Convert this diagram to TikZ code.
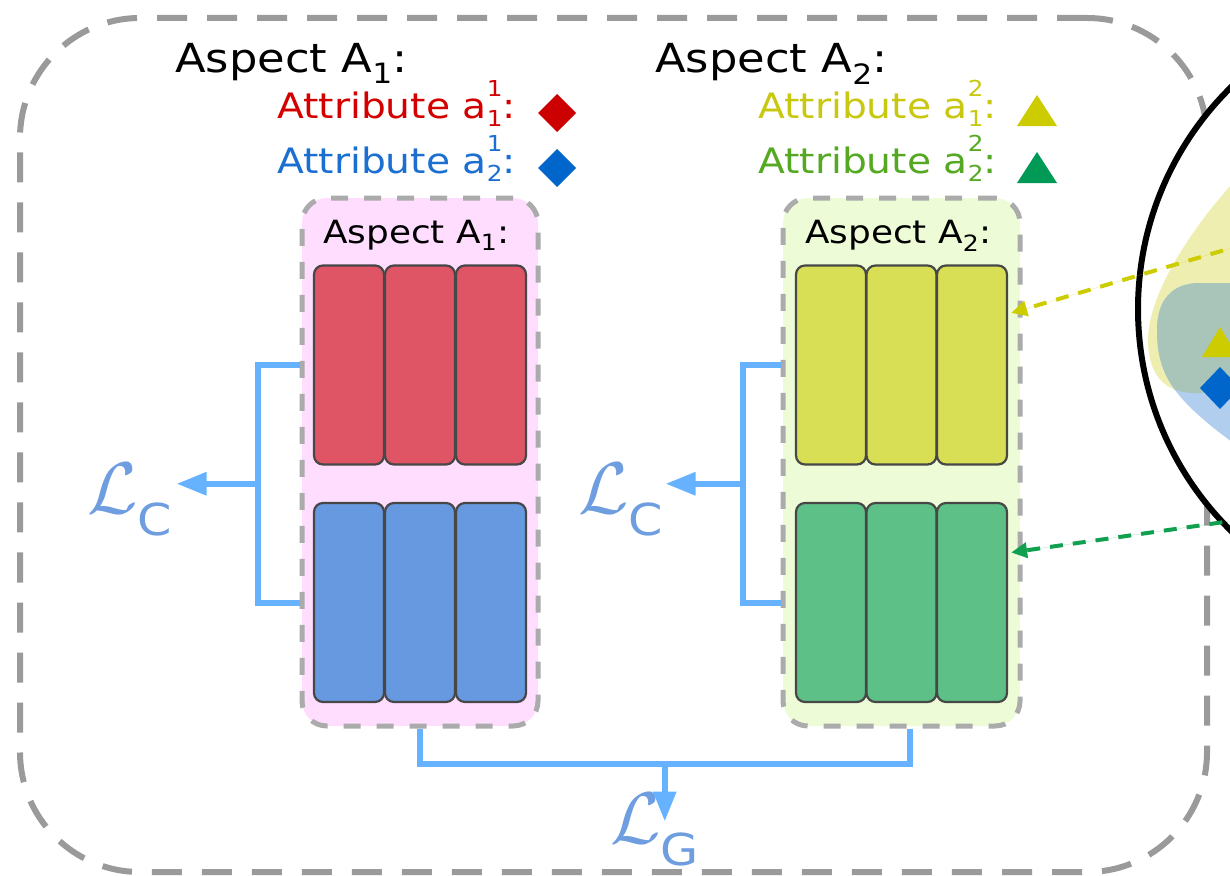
\documentclass[tikz,border=0pt]{standalone}
\usepackage{graphicx}
\usepackage{fontspec}
\setmainfont{DejaVu Sans}[FakeStretch=1.12]
\usetikzlibrary{arrows.meta,calc}
\definecolor{outergray}{HTML}{9A9A9A}
\definecolor{innergray}{HTML}{ABABAB}
\definecolor{pinkbg}{HTML}{FFDDFF}
\definecolor{greenbg}{HTML}{EDFCD6}
\definecolor{redblk}{HTML}{E05565}
\definecolor{blueblk}{HTML}{6699E0}
\definecolor{yellowblk}{HTML}{D9DF55}
\definecolor{greenblk}{HTML}{5DC187}
\definecolor{conncol}{HTML}{66B2FF}
\definecolor{losscol}{HTML}{6E9DE0}
\definecolor{redtxt}{HTML}{D40000}
\definecolor{bluetxt}{HTML}{1A6FD0}
\definecolor{yellowtxt}{HTML}{C8C810}
\definecolor{greentxt}{HTML}{55A822}
\definecolor{redmk}{HTML}{CC0000}
\definecolor{bluemk}{HTML}{0066CC}
\definecolor{yellowmk}{HTML}{CCCC00}
\definecolor{greenmk}{HTML}{009955}
\definecolor{yblob}{HTML}{EEEEB0}
\definecolor{bblob}{HTML}{B2CEEE}
\definecolor{oblob}{HTML}{A9C4B8}
\definecolor{ydash}{HTML}{CCCC00}
\definecolor{gdash}{HTML}{11A050}
\newcommand{\supsub}[2]{\rlap{\raisebox{0.62em}{\fontsize{22}{22}\selectfont #1}}\raisebox{-0.25em}{\fontsize{22}{22}\selectfont #2}}
\newcommand{\lossC}[1]{\resizebox{!}{50pt}{$\mathcal{L}$}\raisebox{-0.5em}{\fontsize{44}{44}\selectfont #1}}
\begin{document}
\begin{tikzpicture}[x=1pt,y=-1pt,
  outerbox/.style={draw=outergray, line width=6pt, dash pattern=on 30pt off 20pt, rounded corners=120pt, inner sep=0pt},
  grpbox/.style={draw=innergray, line width=5pt, dash pattern=on 17pt off 16pt, rounded corners=25pt, inner sep=0pt},
  blk/.style={draw=black!72, line width=2.2pt, rounded corners=9pt, minimum width=70pt, minimum height=199pt, inner sep=0pt},
  conn/.style={draw=conncol, line width=6pt},
  connarrow/.style={conn, -{Triangle[length=30pt,width=22pt]}},
  dasharrow/.style={line width=4pt, dash pattern=on 13pt off 10pt, -{Triangle[length=16pt,width=15pt]}},
  head/.style={anchor=base west, inner sep=0pt, font=\fontsize{40}{42}\selectfont},
  attr/.style={anchor=base west, inner sep=0pt, font=\fontsize{35}{40}\selectfont},
  inhead/.style={anchor=base west, inner sep=0pt, font=\fontsize{32}{36}\selectfont},
  loss/.style={anchor=base west, inner sep=0pt, text=losscol, font=\fontsize{44}{44}\selectfont}]
\useasboundingbox (0,0) rectangle (1230,875);

% outer dashed container
\node[outerbox, minimum width=1187pt, minimum height=854pt] (outer) at (613.5,445) {};

% lens circle with blobs
\node[circle, draw=black, line width=6pt, fill=white, minimum size=622pt, inner sep=0pt] (lens) at (1449,309) {};
\begin{scope}
  \clip (lens.center) circle (308);
  \fill[yblob] (1250,165) .. controls (1200,215) and (1148,290) .. (1148,340) .. controls (1148,375) and (1165,393) .. (1195,393) -- (1250,393) -- cycle;
  \fill[bblob] (1250,283) -- (1200,283) .. controls (1172,283) and (1157,300) .. (1157,330) .. controls (1157,355) and (1162,372) .. (1175,390) .. controls (1190,410) and (1212,428) .. (1250,455) -- cycle;
  \begin{scope}
    \clip (1250,165) .. controls (1200,215) and (1148,290) .. (1148,340) .. controls (1148,375) and (1165,393) .. (1195,393) -- (1250,393) -- cycle;
    \fill[oblob] (1250,283) -- (1200,283) .. controls (1172,283) and (1157,300) .. (1157,330) .. controls (1157,355) and (1162,372) .. (1175,390) .. controls (1190,410) and (1212,428) .. (1250,455) -- cycle;
  \end{scope}
\end{scope}
\fill[yellowmk] (1220,327) -- (1238,357) -- (1202,357) -- cycle;
\fill[bluemk] (1220,367) -- (1240,388) -- (1220,409) -- (1200,388) -- cycle;

% top legends
\node[head] (asp1) at (175,72) {Aspect A\textsubscript{1}:};
\node[attr, text=redtxt] (at11) at (277,118) {Attribute a\supsub{1}{1}:};
\node[attr, text=bluetxt] (at21) at (277,173) {Attribute a\supsub{1}{2}:};
\fill[redmk] (557,94) -- (576,113) -- (557,132) -- (538,113) -- cycle;
\fill[bluemk] (557,149) -- (576,168) -- (557,187) -- (538,168) -- cycle;

\node[head] (asp2) at (655,72) {Aspect A\textsubscript{2}:};
\node[attr, text=yellowtxt] (at12) at (758,118) {Attribute a\supsub{2}{1}:};
\node[attr, text=greentxt] (at22) at (758,173) {Attribute a\supsub{2}{2}:};
\fill[yellowmk] (1037,95) -- (1057,126) -- (1017,126) -- cycle;
\fill[greenmk] (1037,152) -- (1057,183) -- (1017,183) -- cycle;

% group boxes
\node[grpbox, fill=pinkbg, minimum width=236pt, minimum height=528pt] (boxA) at (420,462) {};
\node[grpbox, fill=greenbg, minimum width=237pt, minimum height=528pt] (boxB) at (901.5,462) {};
\node[inhead] (inA) at (323,243) {Aspect A\textsubscript{1}:};
\node[inhead] (inB) at (805,243) {Aspect A\textsubscript{2}:};

% blocks
\node[blk, fill=redblk] (r1) at (349,365) {};
\node[blk, fill=redblk] (r2) at (420,365) {};
\node[blk, fill=redblk] (r3) at (491,365) {};
\node[blk, fill=blueblk] (b1) at (349,602.5) {};
\node[blk, fill=blueblk] (b2) at (420,602.5) {};
\node[blk, fill=blueblk] (b3) at (491,602.5) {};
\node[blk, fill=yellowblk] (y1) at (831,365) {};
\node[blk, fill=yellowblk] (y2) at (901.5,365) {};
\node[blk, fill=yellowblk] (y3) at (972,365) {};
\node[blk, fill=greenblk] (g1) at (831,602.5) {};
\node[blk, fill=greenblk] (g2) at (901.5,602.5) {};
\node[blk, fill=greenblk] (g3) at (972,602.5) {};

% loss labels
\node[loss] (LCa) at (87,513) {\lossC{C}};
\node[loss] (LCb) at (578,513) {\lossC{C}};
\node[loss] (LG) at (610,843) {\lossC{G}};

% brackets and arrows (aspect A1)
\draw[conn] (boxA.west |- r1.center) -- ++(-42,0) coordinate (tA) -- (tA |- b1.center) coordinate (uA) -- (boxA.west |- b1.center);
\coordinate (mA) at ($(tA)!0.5!(uA)$);
\draw[connarrow] (mA) -- ++(-81,0);
% (aspect A2)
\draw[conn] (boxB.west |- y1.center) -- ++(-38,0) coordinate (tB) -- (tB |- g1.center) coordinate (uB) -- (boxB.west |- g1.center);
\coordinate (mB) at ($(tB)!0.5!(uB)$);
\draw[connarrow] (mB) -- ++(-77,0);
% global
\draw[conn] (boxA.south) -- ++(0,35) coordinate (gL) -- ($(gL -| boxB.south)+(8,0)$) coordinate (gR) -- ($(boxB.south)+(8,0)$);
\coordinate (gM) at ($(gL)!0.5!(gR)$);
\draw[connarrow] (gM) -- ++(0,58);

% dashed pointers from the lens
\coordinate (ysrc) at (1245,244);
\coordinate (gsrc) at (1245,519);
\draw[dasharrow, draw=ydash, fill=ydash] (ysrc) -- ($(y3.east)+(3,-52)$);
\draw[dasharrow, draw=gdash, fill=gdash] (gsrc) -- ($(g3.east)+(3,-50)$);
\end{tikzpicture}
\end{document}
